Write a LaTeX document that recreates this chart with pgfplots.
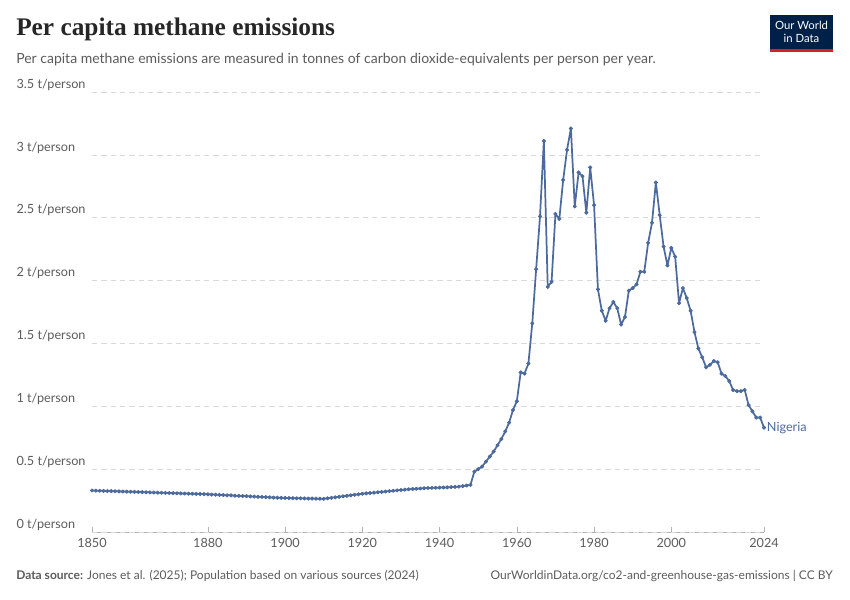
\documentclass[border=0pt]{standalone}
\usepackage{pgfplots}
\pgfplotsset{compat=1.18}
\usepackage{fontspec}
\setmainfont{Lato}
\newfontfamily\titlefont{Liberation Serif}
\definecolor{line}{HTML}{4C6A9C}
\definecolor{navy}{HTML}{002147}
\definecolor{owidred}{HTML}{CE261E}
\definecolor{gtxt}{HTML}{5B5B5B}
\begin{document}
\begin{tikzpicture}[x=0.75pt,y=0.75pt]
\path[use as bounding box] (0,0) rectangle (850,600);
\node[anchor=north west,inner sep=0,font=\titlefont\bfseries\fontsize{19}{22}\selectfont,text=black!85] at (16,582) {Per capita methane emissions};
\node[anchor=north west,inner sep=0,font=\fontsize{10.5}{12}\selectfont,text=gtxt] at (16,547) {Per capita methane emissions are measured in tonnes of carbon dioxide-equivalents per person per year.};
\fill[navy] (770,548) rectangle (833,585);
\fill[owidred] (770,548) rectangle (833,551);
\node[align=center,text=white,font=\fontsize{8.5}{9.5}\selectfont,inner sep=0] at (801.5,568) {Our World\\in Data};
\node[anchor=south west,inner sep=0,font=\fontsize{9}{11}\selectfont,text=gtxt] at (16,18) {\textbf{Data source:} Jones et al. (2025); Population based on various sources (2024)};
\node[anchor=south east,inner sep=0,font=\fontsize{9}{11}\selectfont,text=gtxt] at (833,18) {OurWorldinData.org/co2-and-greenhouse-gas-emissions | CC BY};
\begin{axis}[at={(92*0.75pt,68*0.75pt)},anchor=south west,scale only axis,
 width=504pt,height=330pt,xmin=1850,xmax=2024,ymin=0,ymax=3.5,
 axis y line=none, axis x line*=bottom, axis line style={draw=gray!60},
 xtick={1850,1880,1900,1920,1940,1960,1980,2000,2024},
 xticklabel style={font=\fontsize{9.5}{11}\selectfont,text=gtxt,yshift=-1pt},
 x tick label style={/pgf/number format/1000 sep=},
 /pgf/number format/assume math mode=true,
 tick style={draw=gray!60}, major tick length=4pt,
 clip=false]
\foreach \v/\l in {0/0,0.5/0.5,1/1,1.5/1.5,2/2,2.5/2.5,3/3,3.5/3.5}{
 \edef\tmp{\noexpand\draw[gray!30,dashed,dash pattern=on 4pt off 3pt] (axis cs:1850,\v) -- (axis cs:2024,\v);
 \noexpand\node[anchor=south west,inner sep=1pt,font=\noexpand\fontsize{9.5}{11}\noexpand\selectfont,text=gtxt] at ([xshift=-57.75pt]axis cs:1850,\v) {\l\space t/person};}\tmp}
\addplot[line,line width=1.3pt,line join=round,mark=*,mark size=1.3pt,mark options={solid,line width=0.5pt}] coordinates {
(1850,0.330)(1851,0.329)(1852,0.328)(1853,0.327)(1854,0.326)(1855,0.325)(1856,0.324)(1857,0.323)(1858,0.322)(1859,0.321)
(1860,0.320)(1861,0.319)(1862,0.318)(1863,0.317)(1864,0.316)(1865,0.315)(1866,0.314)(1867,0.313)(1868,0.312)(1869,0.311)
(1870,0.310)(1871,0.309)(1872,0.308)(1873,0.307)(1874,0.306)(1875,0.305)(1876,0.304)(1877,0.303)(1878,0.302)(1879,0.301)
(1880,0.300)(1881,0.298)(1882,0.297)(1883,0.295)(1884,0.294)(1885,0.292)(1886,0.291)(1887,0.289)(1888,0.288)(1889,0.286)
(1890,0.285)(1891,0.283)(1892,0.282)(1893,0.280)(1894,0.279)(1895,0.277)(1896,0.276)(1897,0.274)(1898,0.273)(1899,0.272)
(1900,0.271)(1901,0.270)(1902,0.269)(1903,0.268)(1904,0.268)(1905,0.267)(1906,0.266)(1907,0.266)(1908,0.265)(1909,0.265)
(1910,0.264)(1911,0.268)(1912,0.272)(1913,0.276)(1914,0.280)(1915,0.284)(1916,0.288)(1917,0.292)(1918,0.296)(1919,0.300)
(1920,0.304)(1921,0.307)(1922,0.310)(1923,0.313)(1924,0.316)(1925,0.319)(1926,0.322)(1927,0.325)(1928,0.328)(1929,0.331)
(1930,0.334)(1931,0.337)(1932,0.340)(1933,0.342)(1934,0.344)(1935,0.346)(1936,0.348)(1937,0.350)(1938,0.351)(1939,0.352)
(1940,0.353)(1941,0.354)(1942,0.355)(1943,0.357)(1944,0.359)(1945,0.361)(1946,0.365)(1947,0.370)(1948,0.375)
(1949,0.48)(1950,0.50)(1951,0.52)(1952,0.56)(1953,0.60)(1954,0.64)(1955,0.69)(1956,0.74)(1957,0.80)(1958,0.87)(1959,0.97)
(1960,1.04)(1961,1.27)(1962,1.26)(1963,1.34)(1964,1.66)(1965,2.09)(1966,2.51)(1967,3.11)(1968,1.95)(1969,1.99)
(1970,2.53)(1971,2.49)(1972,2.80)(1973,3.04)(1974,3.21)(1975,2.59)(1976,2.86)(1977,2.83)(1978,2.54)(1979,2.90)
(1980,2.60)(1981,1.93)(1982,1.76)(1983,1.68)(1984,1.78)(1985,1.83)(1986,1.78)(1987,1.65)(1988,1.71)(1989,1.92)
(1990,1.94)(1991,1.97)(1992,2.07)(1993,2.07)(1994,2.30)(1995,2.46)(1996,2.78)(1997,2.52)(1998,2.27)(1999,2.12)
(2000,2.26)(2001,2.19)(2002,1.82)(2003,1.94)(2004,1.86)(2005,1.76)(2006,1.59)(2007,1.46)(2008,1.39)(2009,1.31)
(2010,1.33)(2011,1.36)(2012,1.35)(2013,1.26)(2014,1.24)(2015,1.20)(2016,1.13)(2017,1.12)(2018,1.12)(2019,1.13)
(2020,1.01)(2021,0.96)(2022,0.91)(2023,0.91)(2024,0.83)};
\node[anchor=west,inner sep=2pt,text=line,font=\fontsize{9.5}{11}\selectfont] at (axis cs:2024,0.83) {Nigeria};
\end{axis}
\end{tikzpicture}
\end{document}
